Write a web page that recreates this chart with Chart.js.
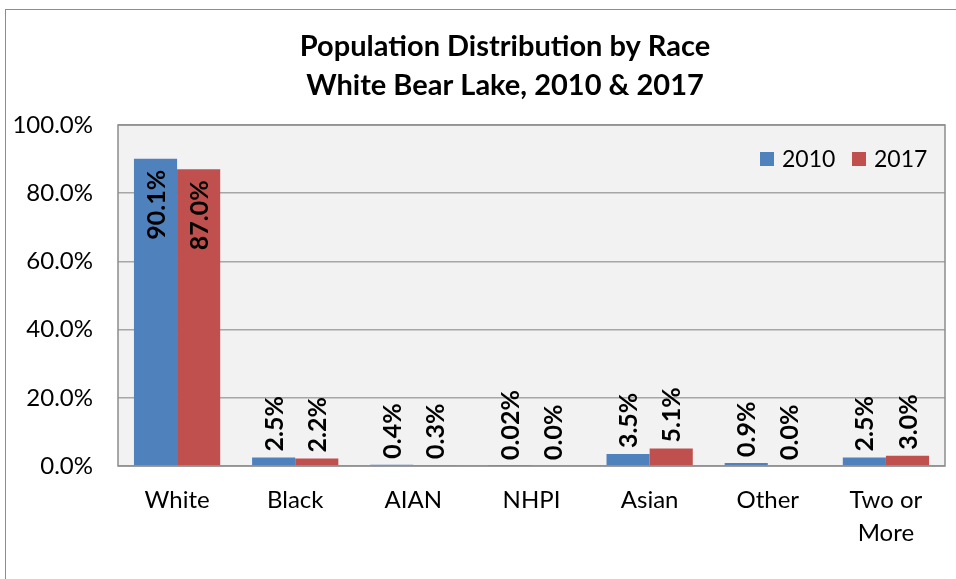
<!DOCTYPE html>
<html>
<head>
<meta charset="utf-8">
<script src="https://cdn.jsdelivr.net/npm/chart.js@4"></script>
<style>
  html, body { margin: 0; padding: 0; background: #fff; }
  #wrap { width: 956px; height: 579px; }
</style>
</head>
<body>
<div id="wrap"><canvas id="raceChart" width="956" height="579"></canvas></div>
<script>
const categories = ['White', 'Black', 'AIAN', 'NHPI', 'Asian', 'Other', ['Two or', 'More']];
const pct2010 = [90.1, 2.5, 0.4, 0.02, 3.5, 0.9, 2.5];
const pct2017 = [87.0, 2.2, 0.3, 0.0, 5.1, 0.0, 3.0];
const titleLines = ['Population Distribution by Race', 'White Bear Lake, 2010 & 2017'];

const FONT = 'Lato, "Open Sans", sans-serif';

function fmt(v) {
    return (v > 0 && v < 0.1 ? v.toFixed(2) : v.toFixed(1)) + '%';
}

// grey plot background + outer frame + title
const backdrop = {
    id: 'backdrop',
    beforeDraw(chart) {
        const { ctx, chartArea: a } = chart;
        ctx.save();
        ctx.fillStyle = '#f2f2f2';
        ctx.fillRect(a.left, a.top, a.right - a.left, a.bottom - a.top);
        ctx.strokeStyle = '#8c8c8c';
        ctx.lineWidth = 1;
        ctx.strokeRect(5.5, 9.5, 1000, 1000);
        ctx.fillStyle = '#000';
        ctx.font = 'bold 29px ' + FONT;
        ctx.textAlign = 'center';
        ctx.textBaseline = 'middle';
        ctx.fillText(titleLines[0], 505, 47);
        ctx.fillText(titleLines[1], 505, 86);
        ctx.restore();
    },
    afterDraw(chart) {
        const { ctx, chartArea: a } = chart;
        ctx.save();
        ctx.strokeStyle = '#8c8c8c';
        ctx.lineWidth = 1.5;
        ctx.strokeRect(a.left, a.top, a.right - a.left, a.bottom - a.top);
        // legend inside plot, top right
        ctx.font = '23px ' + FONT;
        ctx.textBaseline = 'middle';
        ctx.textAlign = 'left';
        chart.data.datasets.forEach((ds, i) => {
            const x = 760 + i * 92;
            ctx.fillStyle = ds.backgroundColor;
            ctx.fillRect(x, 152, 14, 14);
            ctx.fillStyle = '#000';
            ctx.fillText(ds.label, x + 22, 160);
        });
        ctx.restore();
    }
};

// rotated value labels
const valueLabels = {
    id: 'valueLabels',
    afterDatasetsDraw(chart) {
        const { ctx } = chart;
        ctx.save();
        ctx.font = 'bold 25px ' + FONT;
        ctx.fillStyle = '#000';
        ctx.textBaseline = 'middle';
        chart.data.datasets.forEach((ds, di) => {
            chart.getDatasetMeta(di).data.forEach((bar, i) => {
                const v = ds.data[i];
                ctx.save();
                ctx.translate(bar.x + 1, bar.y);
                ctx.rotate(-Math.PI / 2);
                if (v > 50) {
                    ctx.textAlign = 'right';
                    ctx.fillText(fmt(v), -11, 0);
                } else {
                    ctx.textAlign = 'left';
                    ctx.fillText(fmt(v), 6, 0);
                }
                ctx.restore();
            });
        });
        ctx.restore();
    }
};

new Chart(document.getElementById('raceChart').getContext('2d'), {
    type: 'bar',
    data: {
        labels: categories,
        datasets: [
            { label: '2010', data: pct2010, backgroundColor: '#4f81bd' },
            { label: '2017', data: pct2017, backgroundColor: '#c0504d' }
        ]
    },
    options: {
        responsive: false,
        animation: false,
        layout: { padding: { top: 125, right: 11, left: 0, bottom: 0 } },
        datasets: { bar: { categoryPercentage: 0.73, barPercentage: 1.0 } },
        scales: {
            x: {
                grid: { display: false },
                border: { display: false },
                ticks: {
                    color: '#000',
                    font: { family: FONT, size: 24, lineHeight: 1.38 },
                    padding: 10,
                    maxRotation: 0,
                    autoSkip: false
                },
                afterFit(scale) { scale.height = 113; }
            },
            y: {
                min: 0,
                max: 100,
                ticks: {
                    stepSize: 20,
                    color: '#000',
                    font: { family: FONT, size: 24 },
                    padding: 25,
                    callback: v => v.toFixed(1) + '%'
                },
                grid: { color: '#a6a6a6', lineWidth: 1.5, drawTicks: false },
                border: { display: false },
                afterFit(scale) { scale.width = 118; }
            }
        },
        plugins: {
            legend: { display: false },
            tooltip: { enabled: false }
        }
    },
    plugins: [backdrop, valueLabels]
});
</script>
</body>
</html>
